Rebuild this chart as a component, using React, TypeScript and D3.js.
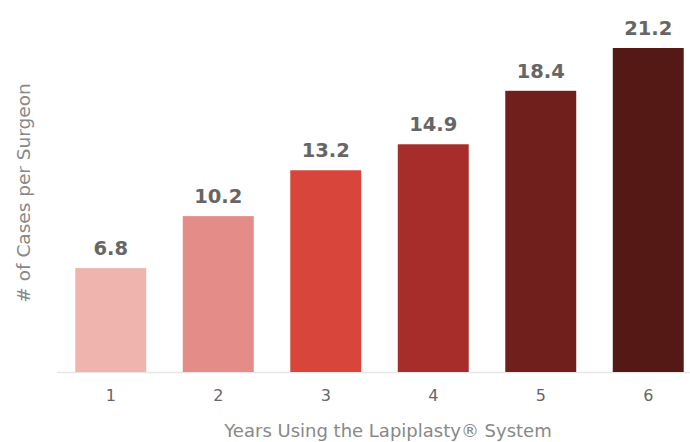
import React from "react";
import * as d3 from "d3";

const categories = ["1", "2", "3", "4", "5", "6"];
const values = [6.8, 10.2, 13.2, 14.9, 18.4, 21.2];
const colors = ["#f0b4af", "#e48d88", "#d8463b", "#a72d2a", "#711f1c", "#541914"];
const xTitle = "Years Using the Lapiplasty® System";
const yTitle = "# of Cases per Surgeon";

export default function App() {
  const W = 690, H = 442;
  const baseY = 372;
  const x = d3.scaleBand().domain(categories).range([57, 702]).paddingInner(0.34).paddingOuter(0.17);
  const y = d3.scaleLinear().domain([0, 21.2]).range([baseY, 48]);
  const font = "'DejaVu Sans', Verdana, sans-serif";
  return (
    <svg width={W} height={H} style={{ position: "absolute", left: 0, top: 0 }}>
      <rect width={W} height={H} fill="#fff" />
      <line x1={57} x2={W} y1={baseY + 0.5} y2={baseY + 0.5} stroke="#e6e6e6" strokeWidth={1.5} />
      {values.map((v, i) => {
        const c = categories[i];
        const bx = x(c)!;
        const bw = x.bandwidth();
        return (
          <g key={c}>
            <rect x={bx} y={y(v)} width={bw} height={baseY - y(v)} fill={colors[i]} />
            <text x={bx + bw / 2} y={y(v) - 13} textAnchor="middle" fontFamily={font} fontWeight="bold" fontSize={19.5} fill="#666">
              {v.toFixed(1)}
            </text>
            <text x={bx + bw / 2} y={401} textAnchor="middle" fontFamily={font} fontSize={16} fill="#666">
              {c}
            </text>
          </g>
        );
      })}
      <text x={388} y={437} textAnchor="middle" fontFamily={font} fontSize={18} fill="#888">{xTitle}</text>
      <text transform="translate(30,193) rotate(-90)" textAnchor="middle" fontFamily={font} fontSize={18.5} fill="#888">{yTitle}</text>
    </svg>
  );
}
